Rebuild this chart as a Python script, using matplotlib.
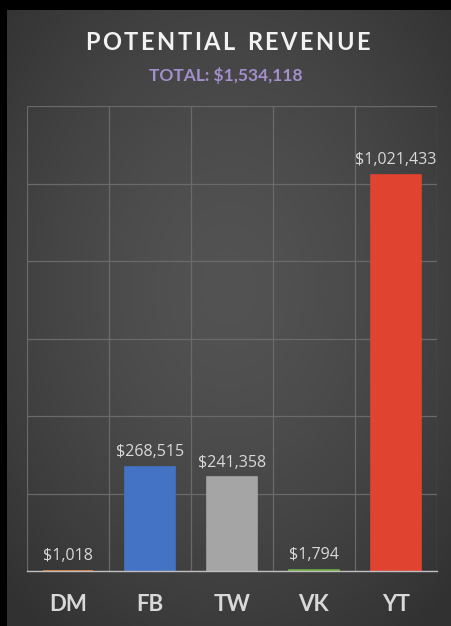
import numpy as np
import matplotlib
matplotlib.use("Agg")
import matplotlib.pyplot as plt

categories = ["DM", "FB", "TW", "VK", "YT"]
values = [1018, 268515, 241358, 1794, 1021433]
bar_colors = ["#ED7D31", "#4472C4", "#A5A5A5", "#70AD47", "#E0432F"]
title = "POTENTIAL REVENUE"
subtitle = "TOTAL: $1,534,118"

W, H = 451, 626
fig = plt.figure(figsize=(W / 100, H / 100), dpi=100, facecolor="black")

# background panel with radial gradient
bg = fig.add_axes([7 / W, 0, (W - 7) / W, 1 - 10 / H])
bg.set_axis_off()
yy, xx = np.mgrid[-1:1:300j, -1:1:300j]
r = np.sqrt(xx ** 2 + (yy + 0.1) ** 2)
g = 0.325 - 0.13 * np.clip(r / 1.4, 0, 1) ** 1.5
img = np.dstack([g, g, g])
bg.imshow(img, aspect="auto", extent=[0, 1, 0, 1])
bg.set_xlim(0, 1)
bg.set_ylim(0, 1)

ax = fig.add_axes([27 / W, 55 / H, 410 / W, 465 / H])
ax.set_facecolor("none")
x = np.arange(len(categories))
bars = ax.bar(x, values, width=0.62, color=bar_colors, edgecolor=bar_colors,
              linewidth=1.2, zorder=3)
ax.set_xlim(-0.5, len(categories) - 0.5)
ax.set_ylim(0, 1200000)
ax.set_yticks(np.arange(0, 1200001, 200000))
ax.grid(axis="y", color="#6A6A6A", linewidth=0.9, zorder=0)
for b in np.arange(-0.5, len(categories), 1.0):
    ax.axvline(b, color="#6A6A6A", linewidth=0.9, zorder=0)
for s in ["top", "left", "right"]:
    ax.spines[s].set_visible(False)
ax.spines["bottom"].set_color("#BFBFBF")
ax.spines["bottom"].set_linewidth(1.0)
ax.spines["bottom"].set_zorder(4)
ax.tick_params(axis="y", left=False, labelleft=False)
ax.tick_params(axis="x", bottom=False, pad=13)
ax.set_xticks(x)
ax.set_xticklabels(categories, fontsize=16, fontweight="bold", color="#D9D9D9", family="Lato")

for xi, v in zip(x, values):
    ax.annotate(f"${v:,}", (xi, v), xytext=(0, 5), textcoords="offset points",
                ha="center", va="bottom", fontsize=11.5, color="#D9D9D9", family="Open Sans")

# title with letter spacing
renderer = fig.canvas.get_renderer()
tkw = dict(fontsize=17, fontweight="bold", color="#F2F2F2", family="Lato", va="center")
spacing = 2.5  # px between letters
widths = []
for ch in title:
    t = fig.text(0, 0, ch if ch != " " else "n", **tkw)
    bb = t.get_window_extent(renderer)
    widths.append(bb.width * (0.55 if ch == " " else 1.0))
    t.remove()
total = sum(widths) + spacing * (len(title) - 1)
xpos = (W - total) / 2 + 2
for ch, w in zip(title, widths):
    if ch != " ":
        fig.text(xpos / W, 1 - 43 / H, ch, ha="left", **tkw)
    xpos += w + spacing

fig.text(0.5, 1 - 75 / H, subtitle, ha="center", va="center", fontsize=12.5, fontweight="bold",
         color="#A28FCC", family="Lato")

fig.savefig("out.png", dpi=100, facecolor="black")
